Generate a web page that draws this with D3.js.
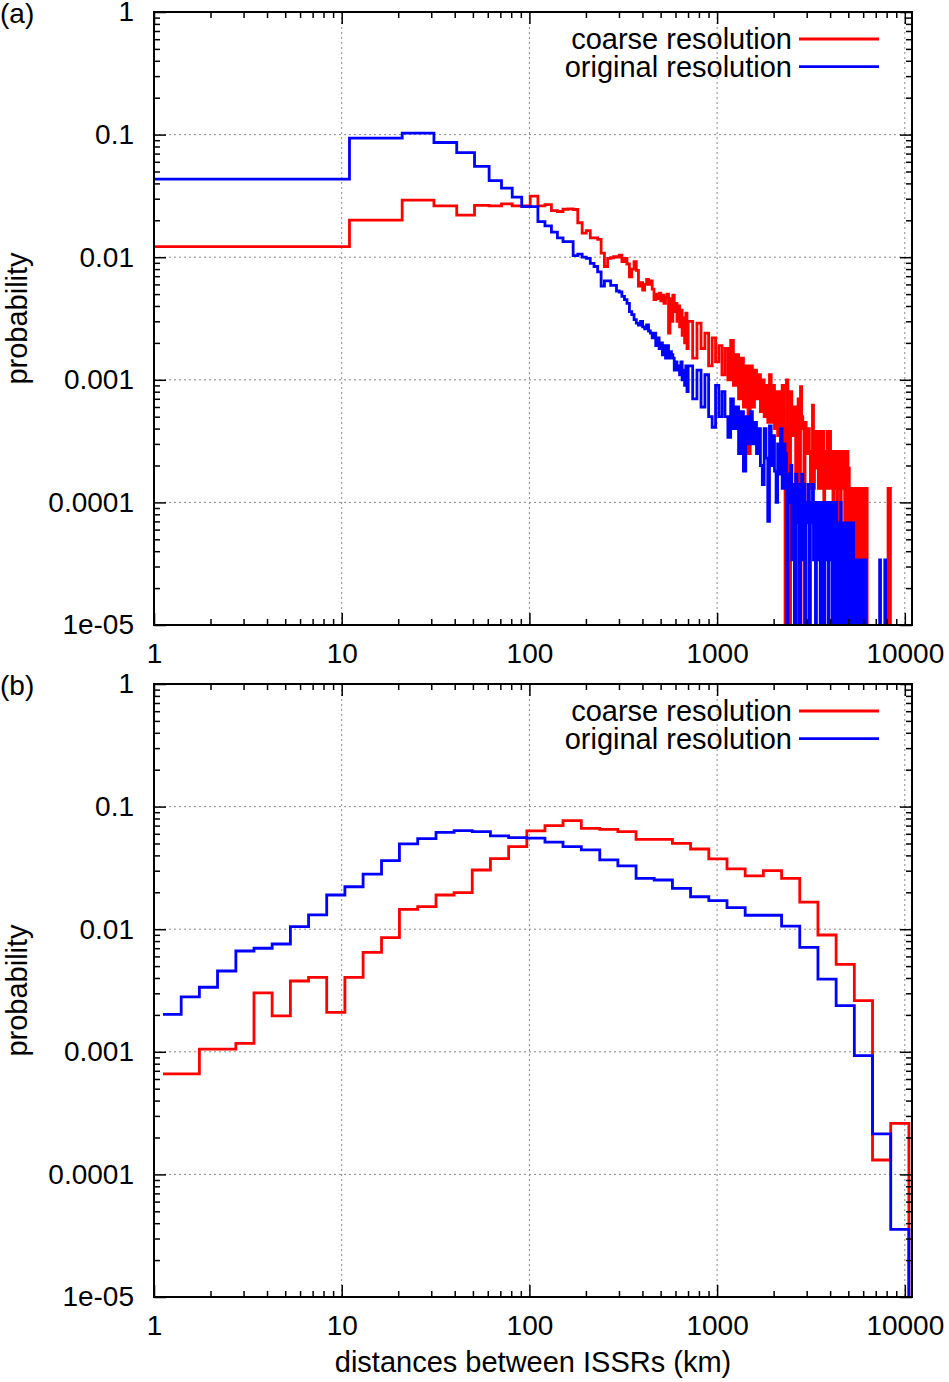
<!DOCTYPE html>
<html>
<head>
<meta charset="utf-8">
<script src="https://cdn.jsdelivr.net/npm/d3@7"></script>
<style>
  body { margin: 0; background: #fff; }
  svg text { font-family: "Liberation Sans", Arial, Helvetica, sans-serif; fill: #000; }
</style>
</head>
<body>
<script>
//===== panel (a): 10 km histogram in runs of bins =====
//bins starting at 1 km, 10 km wide, up to 701 km
const redA10 = [0.0122, 0.0201, 0.0292, 0.0262, 0.0220, 0.0265, 0.0262, 0.0272, 0.0262, 0.0262,
  0.0315, 0.0262, 0.0268, 0.0240, 0.0236, 0.0246, 0.0248, 0.0245, 0.0191, 0.0157,
  0.0165, 0.0144, 0.0144, 0.0140, 0.0108, 0.0084, 0.0098, 0.0099, 0.0101, 0.0100,
  0.0104, 0.0092, 0.0098, 0.0088, 0.0069, 0.0080, 0.0092, 0.0078, 0.0058, 0.0062,
  0.0054, 0.0060, 0.0066, 0.0060, 0.0064, 0.0055, 0.0045, 0.0050, 0.0046, 0.0051,
  0.0044, 0.0049, 0.0042, 0.0047, 0.0050, 0.0024, 0.0046, 0.0030, 0.0049, 0.0036,
  0.0042, 0.0030, 0.0040, 0.0027, 0.0037, 0.0023, 0.0032, 0.0020, 0.0035, 0.0018]
const blueA10 = [0.0433, 0.0936, 0.1028, 0.0862, 0.0714, 0.0550, 0.0422, 0.0366, 0.0309, 0.0259,
  0.0259, 0.0195, 0.0180, 0.0160, 0.0144, 0.0134, 0.0134, 0.0103, 0.0106, 0.0100,
  0.0098, 0.0089, 0.0084, 0.0076, 0.0058, 0.0064, 0.0064, 0.0059, 0.0059, 0.0053,
  0.0052, 0.0048, 0.0045, 0.0042, 0.0036, 0.0034, 0.0031, 0.0029, 0.0028, 0.0030,
  0.0027, 0.0026, 0.0028, 0.0025, 0.0024, 0.0022, 0.0024, 0.0019, 0.0022, 0.0018,
  0.0020, 0.0016, 0.0019, 0.0015, 0.0019, 0.0015, 0.0017, 0.0016, 0.0015, 0.0012,
  0.0014, 0.0012, 0.0013, 0.0011, 0.0014, 0.0010, 0.0012, 0.0009, 0.0013, 0.0008]
//from 701 km, read every 40 km (noisy band, high / low), up to 6301 km (0 = empty bin)
const redA40 = [0.0030, 0.0015, 0.0029, 0.0018, 0.0024, 0.0013, 0.0022, 0.0014, 0.0019, 0.0011,
  0.0018, 0.0010, 0.0021, 0.0009, 0.0016, 0.0007, 0.0015, 0.0006, 0.0013, 0.00025,
  0.0013, 0.0006, 0.0012, 0.0007, 0.0011, 0.00055, 0.0010, 0.0005, 0.0009, 0.00045,
  0.0011, 0.00045, 0.0009, 0.0004, 0.0008, 0.00035, 0.0008, 0.00025, 0.0009, 0.0004,
  0, 0.0010, 0.0006, 0, 0.0008, 0.0004, 0.00035, 0.0006, 0, 0.0005,
  0.0007, 0, 0.00088, 0.0005, 0.0004, 0, 0.00045, 0.0003, 0.00025, 0.0004,
  0.00025, 0.00013, 0.00026, 0.00062, 0.00013, 0.00038, 0.00019, 0.00026, 0.00038, 0.00013,
  0.00019, 0.00038, 0.00013, 0.00026, 0.00038, 0.000065, 0.00019, 0.00026, 0.00013, 0.00038,
  0.00026, 0.00013, 0.00038, 0.00019, 0.00013, 0.00026, 0.000065, 0.00026, 0.00019, 0.00013,
  0.00026, 0.000065, 0.00019, 0.00026, 0.00013, 0.00026, 0.000065, 0.00019, 0.00026, 0.00013,
  0.00026, 0.00013, 0.000065, 0.00026, 0.00019, 0.00013, 0.00026, 0.000065, 0.00019, 0.00013,
  0.00013, 0.000065, 0.00013, 0, 0.00013, 0.000065, 0.00013, 0.000065, 0, 0.00013,
  0.000065, 0.00013, 0, 0.00013, 0.000065, 0, 0.00013, 0.000065, 0.00013, 0,
  0.00013, 0.000065, 0, 0.00013, 0, 0.000065, 0.00013, 0, 0.000065, 0.00013]
const blueA40 = [0.0013, 0.0007, 0.0012, 0.0006, 0.0011, 0.0005, 0.00041, 0.0009, 0.0005, 0.0008,
  0.0005, 0.00034, 0.0007, 0.0004, 0.0006, 0.00025, 0.00055, 0.00018, 0.0005, 0.0003,
  0.00055, 0.0003, 0.00045, 0.00025, 0.0004, 0.0002, 0.00014, 0.0004, 0.00023, 0.00007,
  0.00042, 0.0002, 0.00035, 0.00018, 0.00010, 0.0003, 0.00017, 0.0004, 0.00013, 0.0003,
  0.00025, 0, 0.00017, 0.0001, 0.0002, 0.000034, 0.00014, 0, 0.00017, 0.000068,
  0.00014, 0, 0.0001, 0.00017, 0.000034, 0.00014, 0, 0.0001, 0.000068, 0.00014,
  0, 0.0001, 0.000068, 0.00014, 0.000034, 0.0001, 0, 0.000068, 0.0001, 0.000034,
  0.0001, 0, 0.000068, 0.0001, 0.000034, 0, 0.0001, 0.000068, 0.000034, 0.0001,
  0, 0.000068, 0.0001, 0.000034, 0.000068, 0, 0.0001, 0.000034, 0.000068, 0,
  0.0001, 0.000034, 0.000068, 0, 0.000068, 0.000034, 0.0001, 0, 0.000034, 0.000068,
  0.000034, 0, 0.000068, 0.000034, 0, 0.000068, 0.000034, 0.000068, 0, 0.000034,
  0.000068, 0, 0.000034, 0.000034, 0, 0.000068, 0.000034, 0, 0.000034, 0.000034,
  0, 0.000034, 0.000034, 0, 0.000034, 0.000034, 0, 0.000034, 0, 0.000034,
  0.000034, 0, 0.000034, 0, 0.000034, 0.000034, 0, 0.000034, 0, 0]
//from 6301 km, read every 80 km (sparse tail)
const redA80 = [0, 0, 0, 0, 0, 0, 0, 0, 0, 0,
  0, 0, 0, 0, 0, 0, 0, 0, 0, 0,
  0, 0, 0, 0.00013, 0.00013, 0.00013, 0]
const blueA80 = [0, 0, 0, 0, 0, 0, 0, 0, 0, 0,
  0, 0, 0, 0.000034, 0, 0, 0, 0, 0, 0.000034, 0]

//===== panel (b): logarithmic bins =====
const edgesB = [1.117, 1.396, 1.745, 2.18, 2.73, 3.41, 4.26, 5.33, 6.66, 8.32,
  10.4, 13.0, 16.3, 20.3, 25.4, 31.8, 39.7, 49.6, 62.0, 77.5,
  96.9, 121, 151, 189, 237, 296, 370, 462, 578, 722,
  903, 1129, 1411, 1764, 2205, 2756, 3445, 4306, 5383, 6729,
  8411, 10514, 13140]
const redB = [0.00066, 0.00066, 0.00105, 0.00105, 0.00117, 0.00303, 0.00196, 0.00378, 0.00405, 0.00210,
  0.00405, 0.00648, 0.00853, 0.0145, 0.0153, 0.0190, 0.0199, 0.0304, 0.0376, 0.0471,
  0.0633, 0.0699, 0.0767, 0.0665, 0.0653, 0.0624, 0.0541, 0.0541, 0.0502, 0.0451,
  0.0374, 0.0310, 0.0272, 0.0300, 0.0260, 0.0166, 0.00897, 0.00517, 0.00261, 0.000131,
  0.000261, 0]
const blueB = [0.00202, 0.00281, 0.00336, 0.00456, 0.00664, 0.00699, 0.00757, 0.0105, 0.0131, 0.0190,
  0.0222, 0.0281, 0.0362, 0.0496, 0.0547, 0.0617, 0.0636, 0.0624, 0.0576, 0.0558,
  0.0553, 0.0514, 0.0471, 0.0443, 0.0367, 0.0328, 0.0260, 0.0252, 0.0215, 0.0184,
  0.0171, 0.0150, 0.0130, 0.0130, 0.0106, 0.0071, 0.00392, 0.00238, 0.00093, 0.000214,
  0.0000356, 0]

//axes
const xTicks = [1, 10, 100, 1000, 10000]
const yTicks = [1, 0.1, 0.01, 0.001, 0.0001, 0.00001]
const yTickLabels = ['1', '0.1', '0.01', '0.001', '0.0001', '1e-05']
const seriesNames = ['coarse resolution', 'original resolution']
const seriesColors = ['#ff0000', '#0000ff']
const xAxisLabel = 'distances between ISSRs (km)'
const yAxisLabel = 'probability'

//runs of equal-width bins -> list of {x0, x1, v}
const fromRuns = runs => {
  const out = []
  runs.forEach(r => r.values.forEach((v, i) => {
    out.push({ x0: r.start + i * r.step, x1: r.start + (i + 1) * r.step, v })
  }))
  return out
}
const fromEdges = (edges, values) => values.map((v, i) => ({ x0: edges[i], x1: edges[i + 1], v }))

const panels = [
  {
    label: '(a)', top: 12, bottom: 625,
    series: [
      fromRuns([{ start: 1, step: 10, values: redA10 }, { start: 701, step: 40, values: redA40 },
        { start: 6301, step: 80, values: redA80 }]),
      fromRuns([{ start: 1, step: 10, values: blueA10 }, { start: 701, step: 40, values: blueA40 },
        { start: 6301, step: 80, values: blueA80 }])
    ]
  },
  {
    label: '(b)', top: 684, bottom: 1297,
    series: [fromEdges(edgesB, redB), fromEdges(edgesB, blueB)]
  }
]

const width = 949
const height = 1382
const left = 154
const right = 912

const svg = d3.select('body').append('svg')
  .attr('width', width)
  .attr('height', height)

const xScale = d3.scaleLog().domain([1, 10920]).range([left, right])

//minor ticks 2..9 in every decade
const minors = (lo, hi) => {
  const m = []
  for (let d = lo; d < hi; d *= 10) for (let k = 2; k < 10; k++) m.push(d * k)
  return m
}
const xMinor = minors(1, 10000)
const yMinor = minors(0.00001, 1)

panels.forEach((p, pi) => {
  const yScale = d3.scaleLog().domain([0.00001, 1]).range([p.bottom, p.top])
  const g = svg.append('g')

  //=========== GRID ===========
  g.selectAll('.gx').data(xTicks.slice(1)).enter().append('line')
    .attr('x1', d => xScale(d)).attr('x2', d => xScale(d))
    .attr('y1', p.top).attr('y2', p.bottom)
    .attr('stroke', '#888').attr('stroke-width', 1).attr('stroke-dasharray', '2,3')
  g.selectAll('.gy').data(yTicks.slice(1, -1)).enter().append('line')
    .attr('x1', left).attr('x2', right)
    .attr('y1', d => yScale(d)).attr('y2', d => yScale(d))
    .attr('stroke', '#888').attr('stroke-width', 1).attr('stroke-dasharray', '2,3')

  //=========== DATA ===========
  const clipId = 'clip' + pi
  svg.append('clipPath').attr('id', clipId).append('rect')
    .attr('x', left).attr('y', p.top).attr('width', right - left).attr('height', p.bottom - p.top)
  //empty bins fall off the bottom of the log axis
  const floor = p.bottom + 30
  const stepPath = bins => {
    let s = ''
    bins.forEach((b, i) => {
      const yy = b.v > 0 ? yScale(b.v) : floor
      s += (i === 0 ? `M${xScale(b.x0)},${yy}` : `V${yy}`) + `H${xScale(b.x1)}`
    })
    return s
  }
  g.append('g').attr('clip-path', `url(#${clipId})`)
    .selectAll('path').data(p.series).enter().append('path')
    .attr('d', stepPath)
    .attr('fill', 'none')
    .attr('stroke', (d, i) => seriesColors[i])
    .attr('stroke-width', 2.8)

  //=========== AXES ===========
  const tickStyle = sel => {
    sel.select('.domain').remove()
    sel.selectAll('line').attr('stroke-width', 1.5)
    sel.selectAll('text').style('font-size', '28px')
  }
  g.append('g').attr('transform', `translate(${left},0)`)
    .call(d3.axisLeft(yScale).tickValues(yTicks).tickSize(-12).tickPadding(20)
      .tickFormat((d, i) => yTickLabels[i]))
    .call(tickStyle)
  g.append('g').attr('transform', `translate(${left},0)`)
    .call(d3.axisLeft(yScale).tickValues(yMinor).tickSize(-6).tickFormat(''))
    .call(tickStyle)
  g.append('g').attr('transform', `translate(${right},0)`)
    .call(d3.axisRight(yScale).tickValues(yTicks).tickSize(-12).tickFormat(''))
    .call(tickStyle)
  g.append('g').attr('transform', `translate(${right},0)`)
    .call(d3.axisRight(yScale).tickValues(yMinor).tickSize(-6).tickFormat(''))
    .call(tickStyle)

  const xAxisGroup = g.append('g').attr('transform', `translate(0,${p.bottom})`)
    .call(d3.axisBottom(xScale).tickValues(xTicks).tickSize(-12).tickFormat(d3.format('')))
    .call(tickStyle)
  xAxisGroup.selectAll('text').attr('dy', null).attr('y', 38)
  g.append('g').attr('transform', `translate(0,${p.bottom})`)
    .call(d3.axisBottom(xScale).tickValues(xMinor).tickSize(-6).tickFormat(''))
    .call(tickStyle)
  g.append('g').attr('transform', `translate(0,${p.top})`)
    .call(d3.axisTop(xScale).tickValues(xTicks).tickSize(-12).tickFormat(''))
    .call(tickStyle)
  g.append('g').attr('transform', `translate(0,${p.top})`)
    .call(d3.axisTop(xScale).tickValues(xMinor).tickSize(-6).tickFormat(''))
    .call(tickStyle)

  //border
  g.append('rect')
    .attr('x', left).attr('y', p.top)
    .attr('width', right - left).attr('height', p.bottom - p.top)
    .attr('fill', 'none').attr('stroke', '#000').attr('stroke-width', 2)

  //y axis label
  g.append('text')
    .text(yAxisLabel)
    .attr('transform', `translate(27,${(p.top + p.bottom) / 2}) rotate(-90)`)
    .attr('text-anchor', 'middle')
    .style('font-size', '29px')

  //panel label
  g.append('text')
    .text(p.label)
    .attr('x', 0).attr('y', p.top + 11)
    .style('font-size', '28px')

  //=========== LEGEND ===========
  const legend = g.append('g').attr('transform', `translate(0,${p.top})`)
  seriesNames.forEach((name, i) => {
    legend.append('text')
      .text(name)
      .attr('x', 792).attr('y', 27 + i * 27.7)
      .attr('dy', '0.35em')
      .attr('text-anchor', 'end')
      .style('font-size', '29px')
    legend.append('line')
      .attr('x1', 799).attr('x2', 879)
      .attr('y1', 27 + i * 27.7).attr('y2', 27 + i * 27.7)
      .attr('stroke', seriesColors[i]).attr('stroke-width', 2.8)
  })
})

//x axis label
svg.append('text')
  .text(xAxisLabel)
  .attr('x', (left + right) / 2)
  .attr('y', 1372)
  .attr('text-anchor', 'middle')
  .style('font-size', '29px')
</script>
</body>
</html>
